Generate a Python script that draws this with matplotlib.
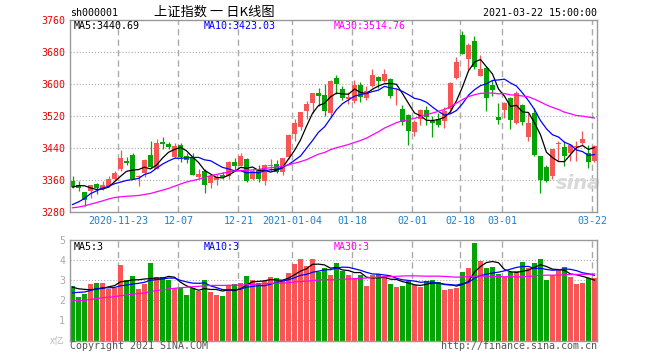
import matplotlib
matplotlib.use('Agg')
import matplotlib.pyplot as plt
import numpy as np
import pandas as pd

plt.rcParams['lines.scale_dashes'] = False

# ---------------- data ----------------
dates = ['2020-11-11', '2020-11-12', '2020-11-13', '2020-11-16', '2020-11-17', '2020-11-18', '2020-11-19',
         '2020-11-20', '2020-11-23', '2020-11-24', '2020-11-25', '2020-11-26', '2020-11-27', '2020-11-30',
         '2020-12-01', '2020-12-02', '2020-12-03', '2020-12-04', '2020-12-07', '2020-12-08', '2020-12-09',
         '2020-12-10', '2020-12-11', '2020-12-14', '2020-12-15', '2020-12-16', '2020-12-17', '2020-12-18',
         '2020-12-21', '2020-12-22', '2020-12-23', '2020-12-24', '2020-12-25', '2020-12-28', '2020-12-29',
         '2020-12-30', '2020-12-31', '2021-01-04', '2021-01-05', '2021-01-06', '2021-01-07', '2021-01-08',
         '2021-01-11', '2021-01-12', '2021-01-13', '2021-01-14', '2021-01-15', '2021-01-18', '2021-01-19',
         '2021-01-20', '2021-01-21', '2021-01-22', '2021-01-25', '2021-01-26', '2021-01-27', '2021-01-28',
         '2021-01-29', '2021-02-01', '2021-02-02', '2021-02-03', '2021-02-04', '2021-02-05', '2021-02-08',
         '2021-02-09', '2021-02-10', '2021-02-18', '2021-02-19', '2021-02-22', '2021-02-23', '2021-02-24',
         '2021-02-25', '2021-02-26', '2021-03-01', '2021-03-02', '2021-03-03', '2021-03-04', '2021-03-05',
         '2021-03-08', '2021-03-09', '2021-03-10', '2021-03-11', '2021-03-12', '2021-03-15', '2021-03-16',
         '2021-03-17', '2021-03-18', '2021-03-19', '2021-03-22']

opens = [3356, 3347, 3329, 3331, 3349, 3336, 3344, 3361, 3386, 3406, 3421, 3366, 3377, 3421,
         3387, 3455, 3450, 3417, 3448, 3420, 3415, 3368, 3383, 3352, 3360, 3372, 3369, 3404,
         3395, 3413, 3362, 3386, 3358, 3394, 3399, 3379, 3417, 3474.68, 3492.19, 3530.91, 3552.91, 3577.59,
         3573, 3528, 3614, 3586, 3563, 3556, 3598, 3565, 3594, 3618, 3607, 3613, 3571, 3536,
         3523, 3479, 3513, 3534, 3508, 3511, 3506, 3536, 3615, 3723, 3662, 3708, 3621, 3640,
         3598, 3516, 3534, 3565, 3503, 3548, 3466, 3527, 3419, 3392, 3369, 3450, 3442, 3427,
         3443, 3452, 3427, 3408]
highs = [3369, 3356, 3330, 3348, 3352, 3357, 3369, 3383, 3434, 3416, 3426, 3371, 3412, 3458,
         3461, 3466, 3454, 3451, 3451, 3427, 3427, 3386, 3386, 3373, 3374, 3379, 3408, 3415,
         3427, 3415, 3388, 3397, 3399, 3411, 3410, 3415, 3474, 3511.65, 3528.68, 3556.80, 3576.20, 3588.94,
         3600, 3609, 3622, 3594, 3580, 3610, 3606, 3594, 3638, 3619, 3637, 3614, 3588, 3548,
         3525, 3510, 3537, 3544, 3519, 3526, 3542, 3606, 3667, 3732, 3702, 3719, 3673, 3644,
         3611, 3552, 3554, 3567, 3582, 3550, 3527, 3540, 3420, 3398, 3438, 3456, 3456, 3449,
         3456, 3481, 3448, 3446]
lows = [3340, 3331, 3294, 3315, 3325, 3334, 3341, 3359, 3383, 3398, 3361, 3344, 3367, 3390,
        3386, 3437, 3436, 3415, 3404, 3403, 3371, 3361, 3326, 3340, 3348, 3361, 3363, 3384,
        3394, 3354, 3359, 3354, 3348, 3381, 3376, 3373, 3411, 3457.21, 3484.72, 3513.05, 3526.62, 3544.00,
        3519, 3517, 3575, 3560, 3549, 3553, 3554, 3559, 3592, 3590, 3604, 3565, 3546, 3497,
        3446, 3469, 3496, 3496, 3467, 3492, 3489, 3527, 3612, 3675, 3636, 3637, 3620, 3531,
        3569, 3500, 3515, 3486, 3500, 3498, 3456, 3420, 3328, 3355, 3362, 3407, 3395, 3406,
        3407, 3447, 3390, 3404]
closes = [3342.20, 3338.68, 3310.10, 3346.97, 3339.90, 3347.30, 3363.09, 3377.73, 3414.49, 3402.82,
          3362.33, 3369.73, 3408.31, 3391.76, 3451.94, 3449.38, 3442.14, 3444.58, 3416.60, 3410.18,
          3371.96, 3373.28, 3347.19, 3369.12, 3367.23, 3366.98, 3404.87, 3394.90, 3420.57, 3356.78,
          3382.32, 3363.11, 3396.56, 3397.29, 3379.04, 3414.45, 3473.07, 3502.96, 3528.68, 3550.88,
          3576.20, 3570.11, 3531.50, 3608.34, 3598.65, 3565.90, 3566.38, 3596.22, 3566.92, 3583.09,
          3621.26, 3606.75, 3624.24, 3569.43, 3573.34, 3505.18, 3483.07, 3505.28, 3533.68, 3517.31,
          3501.86, 3496.33, 3532.44, 3603.49, 3655.09, 3675.36, 3696.17, 3642.44, 3636.36, 3564.08,
          3585.05, 3509.08, 3551.40, 3508.59, 3576.90, 3503.49, 3501.99, 3421.41, 3359.29, 3357.74,
          3436.83, 3453.08, 3419.95, 3446.73, 3445.55, 3463.07, 3404.66, 3443.44]
volumes = [2.70, 2.17, 2.30, 2.80, 2.85, 2.85, 2.55, 2.60, 3.75, 3.00, 3.20, 2.55, 2.80, 3.85,
           3.15, 3.15, 3.00, 2.60, 2.60, 2.25, 2.60, 2.45, 3.00, 2.40, 2.25, 2.20, 2.75, 2.80,
           2.85, 3.20, 3.00, 2.85, 2.95, 3.15, 3.10, 2.95, 3.35, 3.80, 4.05, 3.70, 4.05, 3.40,
           3.60, 3.25, 3.85, 3.45, 3.25, 3.10, 3.25, 2.70, 3.25, 3.30, 3.20, 2.80, 2.65, 2.70,
           2.95, 2.75, 2.65, 2.95, 3.00, 2.90, 2.50, 2.55, 2.60, 3.40, 3.60, 4.85, 3.95, 3.60,
           3.65, 3.30, 3.15, 3.40, 3.45, 3.90, 3.60, 3.85, 4.05, 3.00, 3.25, 3.50, 3.65, 3.15,
           2.80, 2.85, 3.10, 3.10]

# 29 sessions before the window (only used for the moving averages)
prior_closes = [3279.71, 3223.18, 3219.42, 3217.53, 3224.36, 3218.05, 3272.08, 3358.47, 3359.75, 3340.67,
                3332.18, 3336.36, 3312.67, 3328.10, 3325.03, 3312.50, 3278.00, 3251.12, 3254.32, 3269.24,
                3272.74, 3224.53, 3225.12, 3271.07, 3277.44, 3320.13, 3312.16, 3373.73, 3360.15]
prior_volumes = [1.75, 1.80, 1.60, 1.55, 1.60, 1.65, 1.80, 2.35, 2.10, 1.85, 1.75, 1.70, 1.80, 1.75,
                 1.80, 1.70, 1.85, 1.65, 1.60, 1.75, 1.90, 2.15, 2.00, 2.10, 2.30, 2.55, 2.45, 2.90, 2.65]

price_ticks = [3280, 3360, 3440, 3520, 3600, 3680, 3760]
vol_ticks = [1, 2, 3, 4, 5]
xtick_dates = ['2020-11-23', '2020-12-07', '2020-12-21', '2021-01-04', '2021-01-18',
               '2021-02-01', '2021-02-18', '2021-03-01', '2021-03-22']
xtick_labels = ['2020-11-23', '12-07', '12-21', '2021-01-04', '01-18', '02-01', '02-18', '03-01', '03-22']

# ---------------- derived ----------------
n = len(dates)
x = np.arange(n)
all_c = pd.Series(prior_closes + closes)
all_v = pd.Series(prior_volumes + volumes)
npri = len(prior_closes)
ma = {k: all_c.rolling(k).mean().values[npri:] for k in (5, 10, 30)}
vma = {k: all_v.rolling(k).mean().values[npri:] for k in (5, 10, 30)}

RED = '#f85656'
GREEN = '#05a305'
cols = [RED if c >= o else GREEN for o, c in zip(opens, closes)]
MA_COL = {5: '#000000', 10: '#0000ff', 30: '#ff00ff'}
GRID = '#aaaaaa'
MONO = 'DejaVu Sans Mono'

W, H = 660, 360
fig = plt.figure(figsize=(6.6, 3.6), dpi=100)
fig.patch.set_facecolor('white')

def px(xp, yp):
    return xp / W, 1 - yp / H

xl = (-0.42, n - 1 + 0.42)
ax = fig.add_axes([70 / W, 1 - 211.7 / H, 527 / W, 191.7 / H])
axv = fig.add_axes([70 / W, 1 - 340.5 / H, 527 / W, 100.5 / H])

for a in (ax, axv):
    a.set_xlim(*xl)
    for s in a.spines.values():
        s.set_color('#999999')
        s.set_linewidth(1.0)
    a.tick_params(length=0)
    a.set_xticks([])
    a.set_facecolor('white')

ax.set_ylim(3280, 3760)
axv.set_ylim(0, 5)

tick_idx = [dates.index(d) for d in xtick_dates]
for a in (ax, axv):
    for t in tick_idx:
        a.axvline(t - 0.35, color=GRID, lw=1.0, ls=(0, (4.5, 3.0)), zorder=0.5)

for p in price_ticks[1:-1]:
    ax.axhline(p, color=GRID, lw=0.8, ls=(0, (0.8, 1.4)), zorder=0.5)
for v in vol_ticks[:-1]:
    axv.axhline(v, color=GRID, lw=0.8, ls=(0, (0.8, 1.4)), zorder=0.5)

# watermark
ax.text(84.4, 3350, 'sina', ha='center', va='center', fontsize=14, fontstyle='italic',
        fontweight='bold', color='#d9d9d9', zorder=0.6)

# candles
bw = 0.8
for i in range(n):
    o, h, l, c, col = opens[i], highs[i], lows[i], closes[i], cols[i]
    ax.vlines(x[i], l, h, color=col, lw=0.9, zorder=2)
    bottom = min(o, c)
    height = max(abs(c - o), 1.6)
    ax.bar(x[i], height, bottom=bottom, width=bw, color=col, lw=0, zorder=2)

for k in (5, 10, 30):
    ax.plot(x, ma[k], color=MA_COL[k], lw=0.9, zorder=3)

# volume
axv.bar(x, volumes, width=0.85, color=cols, lw=0, zorder=2)
for k in (5, 10, 30):
    axv.plot(x, vma[k], color=MA_COL[k], lw=0.9, zorder=3)

ax.set_yticks(price_ticks)
ax.set_yticklabels([str(p) for p in price_ticks], color='#ee0000', fontfamily=MONO, fontsize=7.2)
ax.tick_params(axis='y', pad=3.5)
axv.set_yticks(vol_ticks)
axv.set_yticklabels([str(v) for v in vol_ticks], color='#aaaaaa', fontfamily=MONO, fontsize=7.2)
axv.tick_params(axis='y', pad=3.5)

# x tick labels
for t, lab in zip(tick_idx, xtick_labels):
    xp = 70 + (t - 0.35 - xl[0]) / (xl[1] - xl[0]) * 527
    fig.text(*px(xp, 221.5), lab, ha='center', va='center', color='#1a80d0',
             fontfamily=MONO, fontsize=7.2)

# header texts
fig.text(*px(70, 13), 'sh000001', ha='left', va='center', fontfamily=MONO, fontsize=7.2, color='#000000')
fig.text(*px(214, 12.5), '上证指数 一 日K线图', ha='center', va='center',
         fontfamily=['Noto Sans CJK SC', 'DejaVu Sans'], fontsize=9.5, color='#000000')
fig.text(*px(597, 13), dates[-1] + ' 15:00:00', ha='right', va='center', fontfamily=MONO,
         fontsize=7.2, color='#000000')

fig.text(*px(74, 26), f'MA5:{ma[5][-1]:.2f}', ha='left', va='center', fontfamily=MONO, fontsize=7.2, color=MA_COL[5])
fig.text(*px(204, 26), f'MA10:{ma[10][-1]:.2f}', ha='left', va='center', fontfamily=MONO, fontsize=7.2, color=MA_COL[10])
fig.text(*px(334, 26), f'MA30:{ma[30][-1]:.2f}', ha='left', va='center', fontfamily=MONO, fontsize=7.2, color=MA_COL[30])

fig.text(*px(74, 246.5), f'MA5:{vma[5][-1]:.0f}', ha='left', va='center', fontfamily=MONO, fontsize=7.2, color=MA_COL[5])
fig.text(*px(204, 246.5), f'MA10:{vma[10][-1]:.0f}', ha='left', va='center', fontfamily=MONO, fontsize=7.2, color=MA_COL[10])
fig.text(*px(334, 246.5), f'MA30:{vma[30][-1]:.0f}', ha='left', va='center', fontfamily=MONO, fontsize=7.2, color=MA_COL[30])

fig.text(*px(64, 341), 'x亿', ha='right', va='center', fontfamily=['Noto Sans CJK SC', 'DejaVu Sans'],
         fontsize=7, color='#bbbbbb')
fig.text(*px(70, 346), 'Copyright 2021 SINA.COM', ha='left', va='center', fontfamily=MONO,
         fontsize=7.2, color='#555555')
fig.text(*px(597, 346), 'http://finance.sina.com.cn', ha='right', va='center', fontfamily=MONO,
         fontsize=7.2, color='#555555')

fig.savefig('out.png', dpi=100, facecolor='white')
